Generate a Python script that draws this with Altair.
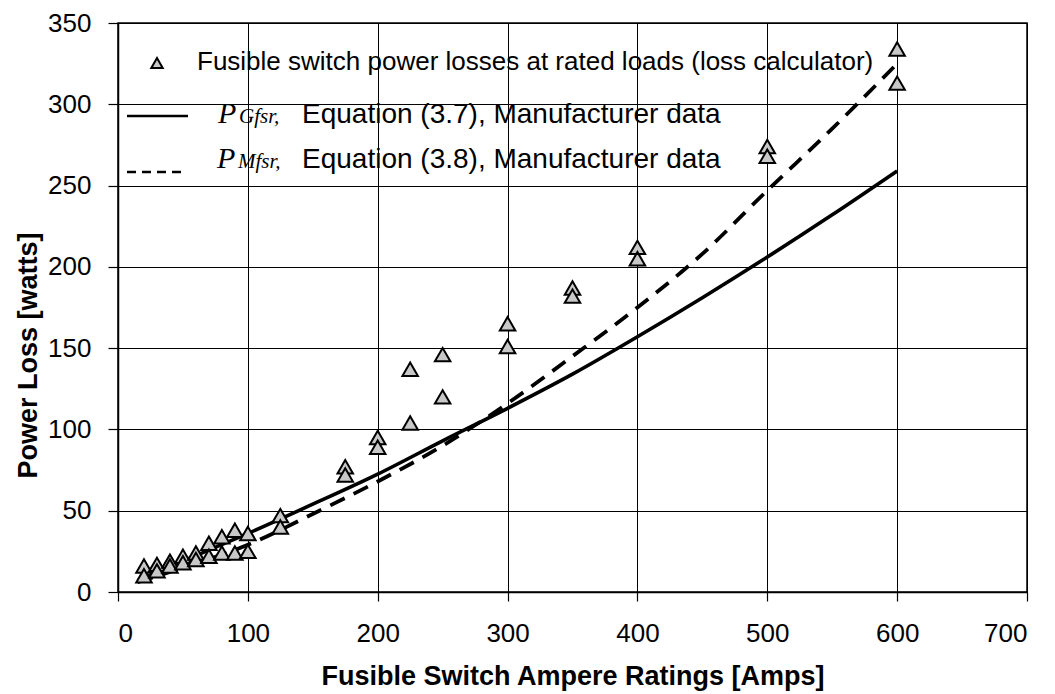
import altair as alt
import pandas as pd

# Scatter: fusible switch power losses at rated loads (loss calculator)
ratings = [20, 30, 40, 50, 60, 70, 80, 90, 100, 125, 175, 200, 225, 250, 300, 350, 400, 500, 600]
loss_hi = [16, 17, 19, 22, 24, 30, 34, 38, 36, 47, 77, 95, 137, 146, 165, 187, 212, 274, 334]
loss_lo = [10, 13, 16, 18, 20, 22, 24, 24, 25, 40, 72, 89, 104, 120, 151, 182, 205, 268, 313]

# Curves
curve_x = [15, 50, 100, 150, 200, 250, 300, 350, 400, 450, 500, 550, 600]
p_gfsr = [7, 19, 36, 54, 72.5, 93, 113, 134, 157, 181, 206, 232, 259]
p_mfsr = [6, 15, 29, 48, 68, 90, 116, 145, 175, 208, 247, 285, 325]

pts = pd.DataFrame({
    "amps": ratings + ratings,
    "loss": loss_hi + loss_lo,
})
solid = pd.DataFrame({"amps": curve_x, "loss": p_gfsr})
dashed = pd.DataFrame({"amps": curve_x, "loss": p_mfsr})

FONT = "Liberation Sans"
SERIF = "Liberation Serif"

xscale = alt.Scale(domain=[0, 700], nice=False, zero=False)
yscale = alt.Scale(domain=[0, 350], nice=False)

common = dict(
    labelFont=FONT, labelFontSize=26, labelColor="black",
    titleFont=FONT, titleFontSize=27, titleFontWeight="bold", titleColor="black",
    domainColor="black", domainWidth=1.5, tickColor="black", tickWidth=1.2,
    gridColor="black", gridWidth=1, gridOpacity=1,
)
xaxis = alt.Axis(
    values=[0, 100, 200, 300, 400, 500, 600, 700],
    title="Fusible Switch Ampere Ratings [Amps]",
    labelBaseline="alphabetic", labelPadding=40, tickSize=9,
    titleY=92, titleBaseline="alphabetic",
    **common,
)
yaxis = alt.Axis(
    values=[0, 50, 100, 150, 200, 250, 300, 350],
    title="Power Loss [watts]",
    labelPadding=17, tickSize=10,
    titleX=-82, titleY=332, titleBaseline="alphabetic", titleAngle=270,
    **common,
)

enc_x = alt.X("amps:Q", scale=xscale, axis=xaxis)
enc_y = alt.Y("loss:Q", scale=yscale, axis=yaxis)

line_solid = alt.Chart(solid).mark_line(
    color="black", strokeWidth=3.6, interpolate="monotone").encode(x=enc_x, y=enc_y)
line_dashed = alt.Chart(dashed).mark_line(
    color="black", strokeWidth=3.8, strokeDash=[16, 10], interpolate="monotone").encode(
    x=alt.X("amps:Q", scale=xscale), y=alt.Y("loss:Q", scale=yscale))
points = alt.Chart(pts).mark_point(
    shape="triangle-up", filled=True, fill="#c8c8c8", stroke="black",
    strokeWidth=2, size=240, opacity=1).encode(
    x=alt.X("amps:Q", scale=xscale), y=alt.Y("loss:Q", scale=yscale))

one = alt.Data(values=[{}])

leg_tri = alt.Chart(one).mark_point(
    shape="triangle-up", filled=True, fill="#c8c8c8", stroke="black",
    strokeWidth=2, size=130, opacity=1).encode(x=alt.value(39), y=alt.value(40))
leg_t1 = alt.Chart(one).mark_text(
    align="left", baseline="alphabetic", font=FONT, fontSize=26, color="black").encode(
    x=alt.value(79), y=alt.value(47),
    text=alt.value("Fusible switch power losses at rated loads (loss calculator)"))

leg_l2 = alt.Chart(one).mark_rule(color="black", strokeWidth=2.5).encode(
    x=alt.value(9), x2=alt.value(70), y=alt.value(93))
leg_p2 = alt.Chart(one).mark_text(
    align="left", baseline="alphabetic", font=SERIF, fontStyle="italic",
    fontSize=30, color="black").encode(x=alt.value(100), y=alt.value(100), text=alt.value("P"))
leg_s2 = alt.Chart(one).mark_text(
    align="left", baseline="alphabetic", font=SERIF, fontStyle="italic",
    fontSize=21, color="black").encode(x=alt.value(121), y=alt.value(100), text=alt.value("Gfsr,"))
leg_t2 = alt.Chart(one).mark_text(
    align="left", baseline="alphabetic", font=FONT, fontSize=28, color="black").encode(
    x=alt.value(184), y=alt.value(100),
    text=alt.value("Equation (3.7),  Manufacturer data"))

leg_l3 = alt.Chart(one).mark_rule(color="black", strokeWidth=2.5, strokeDash=[9, 6]).encode(
    x=alt.value(9), x2=alt.value(66), y=alt.value(149))
leg_p3 = alt.Chart(one).mark_text(
    align="left", baseline="alphabetic", font=SERIF, fontStyle="italic",
    fontSize=30, color="black").encode(x=alt.value(99), y=alt.value(145), text=alt.value("P"))
leg_s3 = alt.Chart(one).mark_text(
    align="left", baseline="alphabetic", font=SERIF, fontStyle="italic",
    fontSize=21, color="black").encode(x=alt.value(120), y=alt.value(145), text=alt.value("Mfsr,"))
leg_t3 = alt.Chart(one).mark_text(
    align="left", baseline="alphabetic", font=FONT, fontSize=28, color="black").encode(
    x=alt.value(184), y=alt.value(145),
    text=alt.value("Equation (3.8),  Manufacturer data"))

chart = alt.layer(
    line_solid, line_dashed, points,
    leg_tri, leg_t1, leg_l2, leg_p2, leg_s2, leg_t2, leg_l3, leg_p3, leg_s3, leg_t3,
).properties(
    width=909, height=569,
    background="white",
    autosize=alt.AutoSizeParams(type="none"),
    padding={"left": 110, "top": 15, "right": 20, "bottom": 104},
).configure_view(
    stroke="black", strokeWidth=1.5
)

chart.save("out.html", embed_options={"renderer": "svg", "actions": False})
